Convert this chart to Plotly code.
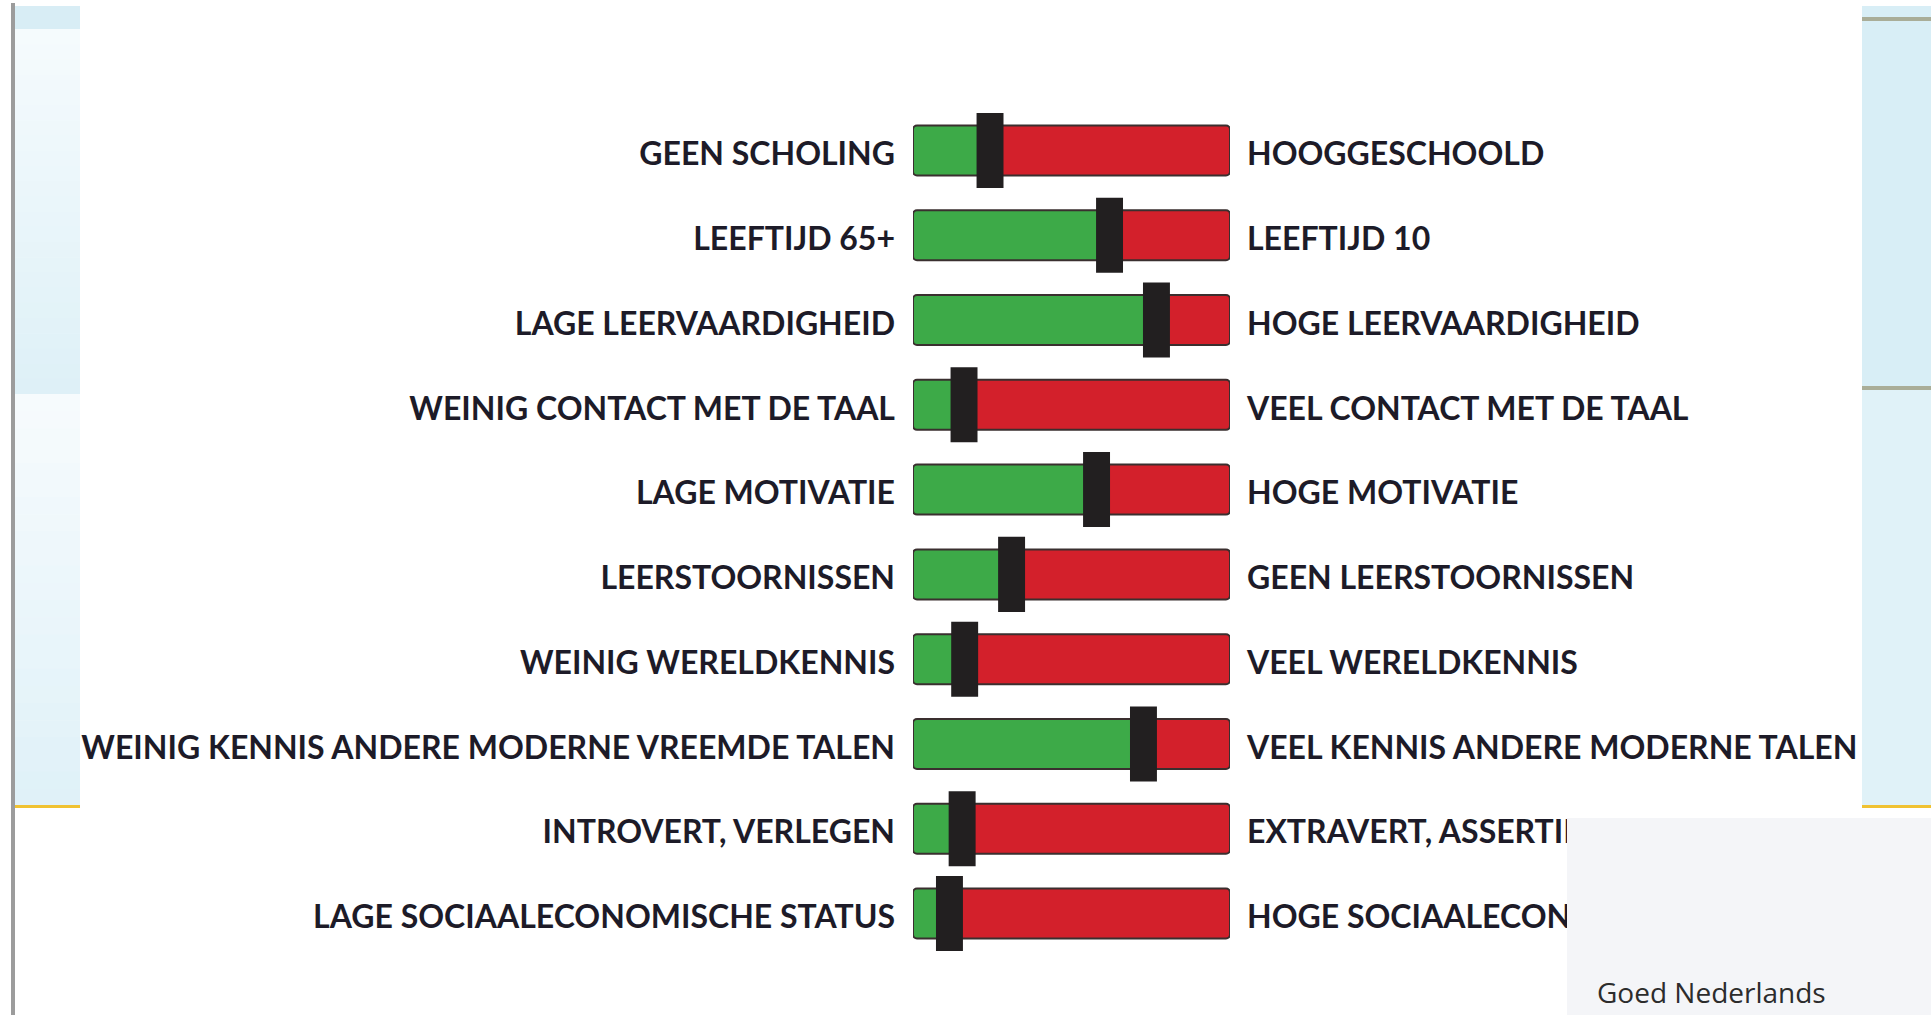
import plotly.graph_objects as go

# ---------------- data ----------------
left_labels = [
    "GEEN SCHOLING",
    "LEEFTIJD 65+",
    "LAGE LEERVAARDIGHEID",
    "WEINIG CONTACT MET DE TAAL",
    "LAGE MOTIVATIE",
    "LEERSTOORNISSEN",
    "WEINIG WERELDKENNIS",
    "WEINIG KENNIS ANDERE MODERNE VREEMDE TALEN",
    "INTROVERT, VERLEGEN",
    "LAGE SOCIAALECONOMISCHE STATUS",
]
right_labels = [
    "HOOGGESCHOOLD",
    "LEEFTIJD 10",
    "HOGE LEERVAARDIGHEID",
    "VEEL CONTACT MET DE TAAL",
    "HOGE MOTIVATIE",
    "GEEN LEERSTOORNISSEN",
    "VEEL WERELDKENNIS",
    "VEEL KENNIS ANDERE MODERNE TALEN",
    "EXTRAVERT, ASSERTIEF",
    "HOGE SOCIAALECONOMISCHE STATUS",
]
slider_values = [24.3, 62.0, 76.8, 16.1, 57.9, 31.1, 16.3, 72.7, 15.5, 11.5]
scale_max = 100
rows = list(range(len(left_labels)))

# ---------------- layout helpers ----------------
W, H = 1931, 1015


def fx(px):
    return px / W


def fy(py):
    return 1 - py / H


GREEN = "#3daa48"
RED = "#d3202b"
EDGE = "#3a2f2f"
KNOB = "#221f20"
TEXT = "#1d1b28"

knob_half = 4.25   # half width of slider knob in value units (style)
bar_w = 0.59
knob_w = 0.885

fig = go.Figure()

fig.add_trace(go.Bar(
    y=rows, x=slider_values, base=[0] * len(rows), orientation="h",
    width=bar_w, marker=dict(color=GREEN, line=dict(color=EDGE, width=2), cornerradius=4),
    hoverinfo="skip", showlegend=False,
))
fig.add_trace(go.Bar(
    y=rows, x=[scale_max - v for v in slider_values], base=slider_values, orientation="h",
    width=bar_w, marker=dict(color=RED, line=dict(color=EDGE, width=2), cornerradius=4),
    hoverinfo="skip", showlegend=False,
))
fig.add_trace(go.Bar(
    y=rows, x=[2 * knob_half] * len(rows), base=[v - knob_half for v in slider_values],
    orientation="h", width=knob_w,
    marker=dict(color=KNOB, line=dict(width=0), cornerradius=0),
    hoverinfo="skip", showlegend=False,
))
# invisible traces to attach the label axes
fig.add_trace(go.Scatter(
    x=slider_values, y=rows, yaxis="y2", mode="markers",
    marker=dict(opacity=0), hoverinfo="skip", showlegend=False,
))
fig.add_trace(go.Scatter(
    x=slider_values, y=rows, yaxis="y3", mode="markers",
    marker=dict(opacity=0), hoverinfo="skip", showlegend=False,
))

row_top, row_bottom = 150.5, 913.5
step = (row_bottom - row_top) / (len(rows) - 1)
y_dom = [fy(row_bottom + step / 2), fy(row_top - step / 2)]
n = len(rows)
bar_range = [n - 0.5, -0.5]
lab_shift = 3.5 / step   # labels sit a few px lower than the bar centres
lab_range = [n - 0.5 - lab_shift, -0.5 - lab_shift]

tickfont = dict(family="Lato", size=32, color=TEXT, weight=700)

fig.update_layout(
    width=W, height=H, autosize=False,
    margin=dict(l=0, r=0, t=0, b=0),
    paper_bgcolor="white", plot_bgcolor="rgba(0,0,0,0)",
    barmode="overlay",
    xaxis=dict(domain=[fx(913), fx(1230)], range=[0, scale_max], visible=False, fixedrange=True),
    yaxis=dict(domain=y_dom, range=bar_range, visible=False, fixedrange=True),
    yaxis2=dict(overlaying="y", side="left", anchor="x", range=lab_range,
                tickvals=rows, ticktext=left_labels, showgrid=False, zeroline=False,
                showline=False, ticks="", ticklabelstandoff=17, tickfont=tickfont, fixedrange=True),
    yaxis3=dict(overlaying="y", side="right", anchor="x", range=lab_range,
                tickvals=rows, ticktext=right_labels, showgrid=False, zeroline=False,
                showline=False, ticks="", ticklabelstandoff=16, tickfont=tickfont, fixedrange=True),
)

shapes = []


def rect(x0, y0, x1, y1, color, layer="below"):
    shapes.append(dict(type="rect", xref="paper", yref="paper",
                       x0=fx(x0), x1=fx(x1), y0=fy(y1), y1=fy(y0),
                       fillcolor=color, line=dict(width=0), layer=layer))


def mix(c0, c1, t):
    a = [int(c0[i:i + 2], 16) for i in (1, 3, 5)]
    b = [int(c1[i:i + 2], 16) for i in (1, 3, 5)]
    return "#" + "".join(f"{round(a[k] + (b[k] - a[k]) * t):02x}" for k in range(3))


def gradient(x0, y0, x1, y1, c0, c1, nb=24):
    span = (y1 - y0) / nb
    for i in range(nb):
        rect(x0, y0 + i * span, x1, y0 + (i + 1) * span + 0.6, mix(c0, c1, (i + 0.5) / nb))


# left slide edge
rect(11, 3, 15, H, "#9c9c9c")
rect(15, 6, 80, 29, "#d8edf5")
gradient(15, 29, 80, 394, "#f6fbfd", "#ddf0f7")
gradient(15, 394, 80, 806, "#f7fbfd", "#dff1f8")
rect(15, 805, 80, 808, "#f0c232")

# right panel
rect(1862, 6, W, 388, "#d8eef6")
rect(1862, 388, W, 806, "#e0f2f8")
rect(1862, 17, W, 21, "#a9ad98")
rect(1862, 386, W, 390, "#a9ad98")
rect(1862, 805, W, 808, "#f0c232")

# overlapping screenshot in the bottom-right corner
rect(1567, 818, W, H, "#f4f5f8", layer="above")

fig.update_layout(shapes=shapes)

fig.add_annotation(
    xref="paper", yref="paper", x=fx(1595), y=fy(1013), xanchor="left", yanchor="bottom",
    text="Goed Nederlands", showarrow=False,
    font=dict(family="Open Sans", size=28, color="#2c2c2c"),
)

fig.write_html("out.html", config={"displayModeBar": False},
               post_script="document.body.style.margin='0';document.body.style.overflow='hidden';")
